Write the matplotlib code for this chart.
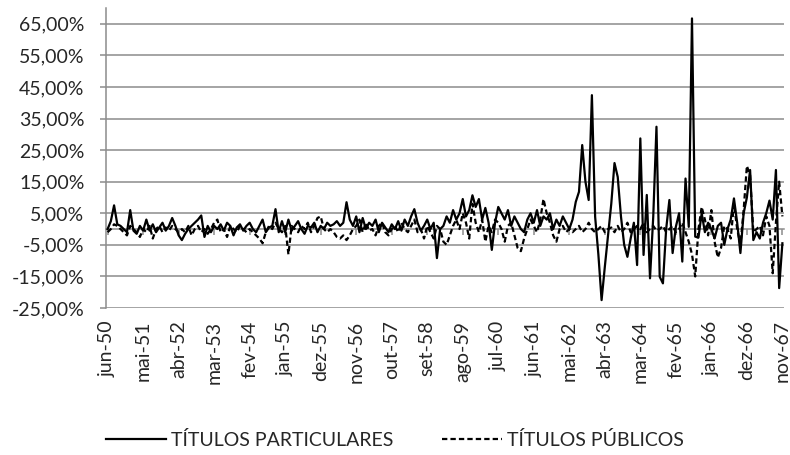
import matplotlib
matplotlib.use("Agg")
import matplotlib.pyplot as plt
from matplotlib.ticker import FuncFormatter, FixedLocator

# ---- data (monthly % variation, jun-50 .. nov-67) ----
particulares = [
    0, 2.5, 7.5, 1.5, 1, 0, -1, 6, -0.5, -1.5, 1,
    -0.5, 3, -0.5, 1.5, -1, 0.5, 2, -0.5, 1, 3.5, 1,
    -2, -3.5, -1.5, 0, 1, 2, 3, 4.3, -2.5, 1, -1,
    1, 0, 1.5, -0.5, 2, 1, -2, 0.5, 1.5, -0.5, 1,
    2, 0, -1, 1, 3, -1, 0.5, 1, 6.3, -1, 2.5,
    -1, 3, -0.5, 1, 2.5, 0, -1.5, 1, 0.5, 2, -1,
    1, 0, 2, 1, 1.5, 2.5, 1, 2, 8.5, 3, 1,
    4, -1, 3.5, 0, 2, 1, 3, -1, 2, 0.5, -1,
    1.5, 0, 2.5, -0.5, 3, 1, 4, 6.3, 2, -0.5, 1,
    3, 0, 2, -9.2, 0, 1, 4, 2, 6, 3, 5,
    9.5, 4, 6, 10.7, 7, 9.5, 3, 6.7, 2, -6.6, 2,
    7, 5, 3, 6, 1, 4, 2, 0, -1, 3, 5,
    2, 6, 1, 4, 3, 5, 0, 3, 1, 4, 2,
    0, 3, 8.6, 11.8, 26.6, 15, 9.2, 42.4, 3.9, -8, -22.5,
    -12, -2, 8, 20.9, 16.5, 4, -5, -8.8, -3, 2, -11.4,
    28.7, -8.2, 10.8, -15.6, 3.9, 32.4, -15.1, -17.2, 0, 9.2, -7.6,
    0.7, 5, -10.3, 16, 0.7, 66.7, -2.4, -2.7, 5, -1, 2,
    0, -3, 1, 2, -5, 0, 3, 9.7, 2, -7.6, 5,
    10, 18.7, -3.5, -1, -3, 2, 5, 9, 3, 18.7, -18.7, -4.5,
]
publicos = [
    -1, 0, 1.5, 1, 0, -1, -2, 1, 0, -1, -2.5,
    0, -1, 1, -3, 0, 1, -1, 0.5, -0.5, 1, 0,
    -1, 0, -1, 1, -2, 0, 1, -1, 0, -1.5, 0,
    2, 3, -1, 0, -2.5, 1, 0, -1, 1, 0, -1,
    0, -1, -2, -3, -4.5, -1, 1, 0, 2, 0, -1,
    1, -8, 1, 0, -1, 1, 0, 2, -1, 1, 3.5,
    4, 0, -1, 0, -1, -2.5, -3, -2, -3.5, -2, 0,
    1, 3, -1, 2, -0.5, 0, -2, 1, 2, -1, -2,
    0, 1, -1, 2, 0, -1, 1, 3, -1, 0, -3,
    1, -1, -3, 1, 0, -4, -5, -2, 1, 3, 0,
    5, 2, -3, 8, 2, -1, 3, -4, 1, -1, 3,
    2, 0, -4, 1, 2, -2, -6, -7, -3, 0, 3,
    1, -1, 3, 9.5, 5, 2, -2, -4, 0, 1, -1,
    0, -1, 0, 1, -1, 0, 2, 0, -1, 0, 1,
    -1, 0, 0.5, -1, 1, -1, 0, 2, -1, 0, 1,
    0, 2, -1, 0, 1, -0.5, 0, 1, -1, 0, 1,
    -1, 0, 2, -1, -4, -8, -15, 0, 7, 3, -2,
    6, -4, -9, -6, 1, 0, -3, 8, 0, -5, 6,
    20, 17, -1, 0, 1, -2, 4, 1, -14, 2, 15, 4,
]
tick_labels = ["jun-50", "mai-51", "abr-52", "mar-53", "fev-54", "jan-55", "dez-55",
               "nov-56", "out-57", "set-58", "ago-59", "jul-60", "jun-61", "mai-62",
               "abr-63", "mar-64", "fev-65", "jan-66", "dez-66", "nov-67"]
series_names = ["TÍTULOS PARTICULARES", "TÍTULOS PÚBLICOS"]
y_ticks = [-25, -15, -5, 5, 15, 25, 35, 45, 55, 65]

plt.rcParams['font.family'] = ['Lato', 'DejaVu Sans']
txt = '#262626'
grid_c = '#8c8c8c'

fig = plt.figure(figsize=(7.9, 4.55), dpi=100)
ax = fig.add_axes([106/790, 1-308/455, 678/790, 300/455])

n = len(particulares)
x = list(range(n))
l1, = ax.plot(x, particulares, color='black', lw=1.6, label=series_names[0], zorder=4)
l2, = ax.plot(x[:len(publicos)], publicos, color='black', lw=1.6, dashes=(2.4, 1.4),
              label=series_names[1], zorder=3)

ax.set_xlim(-0.5, n - 0.5)
ax.set_ylim(-25, 70)
ax.yaxis.set_major_locator(FixedLocator(y_ticks))
ax.yaxis.set_major_formatter(FuncFormatter(lambda v, p: f"{v:.2f}%".replace('.', ',')))
ax.grid(axis='y', color=grid_c, lw=1.1, zorder=0)
ax.set_axisbelow(True)

for s in ['top', 'right']:
    ax.spines[s].set_visible(False)
ax.spines['left'].set_color(grid_c)
ax.spines['left'].set_linewidth(1.1)
# category axis crossing at zero
ax.spines['bottom'].set_position(('data', 0))
ax.spines['bottom'].set_color(grid_c)
ax.spines['bottom'].set_linewidth(1.1)
ax.spines['bottom'].set_zorder(2)

tick_pos = list(range(0, n, 11))
ax.set_xticks(tick_pos)
ax.tick_params(axis='x', length=4, width=1.1, color=grid_c, direction='out', labelbottom=False)
ax.tick_params(axis='y', length=4.5, width=1.1, color=grid_c, labelsize=14, labelcolor=txt, pad=11)

sec = ax.secondary_xaxis(0.0)
sec.set_xticks(tick_pos)
sec.set_xticklabels(tick_labels, rotation=90, fontsize=14, color=txt)
sec.tick_params(length=0, pad=9)
sec.spines['bottom'].set_visible(False)

fig.legend(handles=[l1, l2], loc='center', bbox_to_anchor=(0.5, 1-440/455), ncol=2,
           frameon=False, fontsize=14, handlelength=3.1, handletextpad=0.25,
           columnspacing=2.5, labelcolor=txt)

fig.savefig('out.png', dpi=100)
